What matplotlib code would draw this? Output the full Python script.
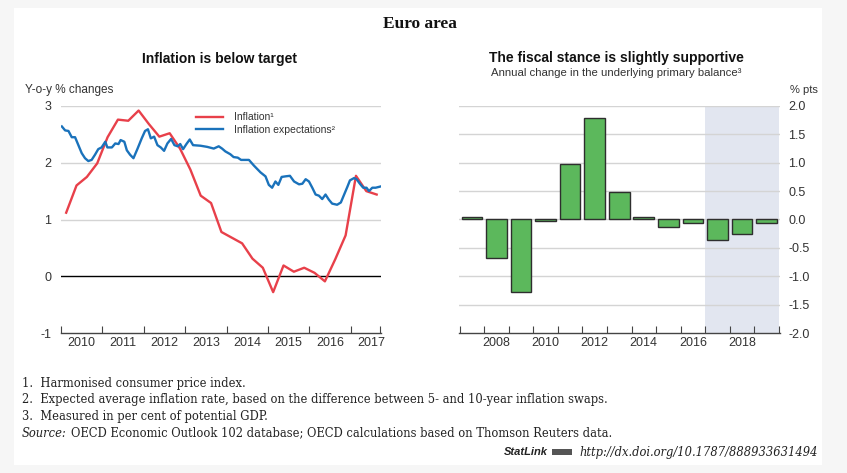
import numpy as np
import pandas as pd
import matplotlib
matplotlib.use("Agg")
import matplotlib.pyplot as plt
from matplotlib.patches import Rectangle

# --- data ---
# left panel: inflation (quarterly, 2010Q1 - 2017Q3)
infl_dates = pd.period_range("2010Q1", "2017Q3", freq="Q")
inflation = [1.12, 1.60, 1.75, 1.99, 2.45, 2.76, 2.74, 2.92,
             2.68, 2.46, 2.52, 2.25, 1.88, 1.42, 1.29, 0.78,
             0.68, 0.58, 0.31, 0.15, -0.28, 0.19, 0.08, 0.15,
             0.06, -0.09, 0.30, 0.72, 1.77, 1.50, 1.44]

# inflation expectations (decimal years)
exp_t = [2010.02, 2010.10, 2010.18, 2010.26, 2010.34, 2010.42, 2010.50, 2010.58,
         2010.66, 2010.74, 2010.82, 2010.90, 2010.98, 2011.07, 2011.12, 2011.23,
         2011.31, 2011.39, 2011.44, 2011.53, 2011.59, 2011.67, 2011.75, 2011.85,
         2011.95, 2012.03, 2012.10, 2012.17, 2012.25, 2012.33, 2012.41, 2012.49,
         2012.57, 2012.66, 2012.74, 2012.82, 2012.88, 2012.95, 2013.03, 2013.11,
         2013.19, 2013.37, 2013.53, 2013.69, 2013.81, 2013.89, 2013.97, 2014.09,
         2014.17, 2014.27, 2014.35, 2014.54, 2014.66, 2014.82, 2014.94, 2015.02,
         2015.10, 2015.18, 2015.25, 2015.33, 2015.42, 2015.53, 2015.63, 2015.75,
         2015.83, 2015.91, 2015.99, 2016.07, 2016.15, 2016.23, 2016.31, 2016.39,
         2016.47, 2016.55, 2016.67, 2016.76, 2016.84, 2016.92, 2016.98, 2017.08,
         2017.14, 2017.22, 2017.30, 2017.38, 2017.44, 2017.52, 2017.60, 2017.71]
exp_v = [2.64, 2.57, 2.56, 2.45, 2.45, 2.31, 2.17, 2.08,
         2.03, 2.05, 2.14, 2.24, 2.27, 2.37, 2.27, 2.27,
         2.34, 2.33, 2.40, 2.37, 2.22, 2.14, 2.08, 2.25,
         2.43, 2.56, 2.59, 2.43, 2.46, 2.31, 2.27, 2.21,
         2.34, 2.42, 2.31, 2.29, 2.33, 2.24, 2.33, 2.41,
         2.31, 2.30, 2.28, 2.25, 2.29, 2.25, 2.20, 2.15,
         2.10, 2.09, 2.05, 2.05, 1.95, 1.83, 1.76, 1.61,
         1.56, 1.67, 1.61, 1.75, 1.76, 1.77, 1.67, 1.62,
         1.63, 1.71, 1.67, 1.56, 1.44, 1.42, 1.36, 1.44,
         1.35, 1.28, 1.26, 1.30, 1.44, 1.58, 1.69, 1.73,
         1.71, 1.63, 1.56, 1.56, 1.50, 1.56, 1.56, 1.58]

# right panel: annual change in underlying primary balance
years = [2007, 2008, 2009, 2010, 2011, 2012, 2013, 2014, 2015, 2016, 2017, 2018, 2019]
fiscal = [0.05, -0.68, -1.28, -0.02, 0.97, 1.78, 0.49, 0.04, -0.14, -0.07, -0.36, -0.26, -0.07]
proj_start = 2016.5

RED = "#e8404a"
BLUE = "#1a72bb"
GREEN = "#5cb85c"
GRID = "#d4d4d4"
TXT = "#333333"

plt.rcParams["font.family"] = ["Liberation Sans", "DejaVu Sans"]

W, H = 847, 473
fig = plt.figure(figsize=(W / 100, H / 100), dpi=100)
fig.patch.set_facecolor("#f6f6f6")
fig.patches.append(Rectangle((14 / W, 1 - 465 / H), 808 / W, 457 / H,
                             transform=fig.transFigure, facecolor="white",
                             edgecolor="none", zorder=-5))


def fx(px):
    return px / W


def fy(py):
    return 1 - py / H


ax1 = fig.add_axes([fx(61), fy(333), fx(320), (333 - 106) / H])
ax2 = fig.add_axes([fx(459), fy(333), fx(321), (333 - 106) / H])

for ax in (ax1, ax2):
    ax.set_facecolor("none")
    for s in ("top", "left", "right"):
        ax.spines[s].set_visible(False)
    ax.spines["bottom"].set_color("#444444")
    ax.spines["bottom"].set_linewidth(1.0)
    ax.tick_params(axis="y", length=0, labelsize=9, colors=TXT)
    ax.tick_params(axis="x", which="major", direction="in", length=5,
                   color="#444444", labelbottom=False)
    ax.tick_params(axis="x", which="minor", length=0, labelsize=9, colors=TXT, pad=3)

# left chart
t_infl = [p.year + (p.quarter - 1) / 4 + 0.125 for p in infl_dates]
ax1.set_xlim(2010, 2017.73)
ax1.set_ylim(-1, 3)
for v in (1, 2, 3):
    ax1.axhline(v, color=GRID, lw=1, zorder=1)
ax1.axhline(0, color="black", lw=1, zorder=1)
ax1.plot(t_infl, inflation, color=RED, lw=1.7, label="Inflation\u00b9", zorder=3)
ax1.plot(exp_t, exp_v, color=BLUE, lw=1.7, label="Inflation expectations\u00b2", zorder=3)
ax1.set_yticks([-1, 0, 1, 2, 3])
ax1.set_yticklabels(["-1", "0", "1", "2", "3"])
ax1.tick_params(axis="y", pad=7)
ax1.set_xticks(list(range(2010, 2018)) + [2017.71])
ax1.set_xticks([y + 0.5 for y in range(2010, 2018)], minor=True)
ax1.set_xticklabels([str(y) for y in range(2010, 2018)], minor=True)
leg = ax1.legend(loc="upper left", bbox_to_anchor=(0.41, 0.99), frameon=False,
                 fontsize=7.5, handlelength=2.6, handletextpad=1.0,
                 labelspacing=0.2, borderaxespad=0)
for t in leg.get_texts():
    t.set_color(TXT)

# right chart
ax2.axvspan(proj_start, 2019.5, ymin=0, ymax=1, color="#e2e6f0", lw=0, zorder=0)
ax2.set_xlim(2006.47, 2019.55)
ax2.set_ylim(-2, 2)
for v in np.arange(-1.5, 2.01, 0.5):
    ax2.axhline(v, color=GRID, lw=1, zorder=1)
ax2.bar(years, fiscal, width=0.84, color=GREEN, edgecolor="#2e2e2e", lw=1, zorder=2)
ax2.yaxis.tick_right()
ax2.set_yticks(np.arange(-2, 2.01, 0.5))
ax2.set_yticklabels([f"{v:.1f}" for v in np.arange(-2, 2.01, 0.5)])
ax2.tick_params(axis="y", pad=6)
ax2.set_xticks([y + 0.5 for y in range(2006, 2020)])
ax2.set_xticks(range(2008, 2020, 2), minor=True)
ax2.set_xticklabels([str(y) for y in range(2008, 2020, 2)], minor=True)

# titles and labels
fig.text(fx(420), fy(24), "Euro area", ha="center", va="center",
         family=["Liberation Serif", "DejaVu Serif"], fontweight="bold", fontsize=12.5, color="#111111")
fig.text(fx(220), fy(59), "Inflation is below target", ha="center", va="center",
         fontweight="bold", fontsize=10, color="#111111")
fig.text(fx(616), fy(58), "The fiscal stance is slightly supportive", ha="center", va="center",
         fontweight="bold", fontsize=10, color="#111111")
fig.text(fx(616), fy(73), "Annual change in the underlying primary balance\u00b3", ha="center",
         va="center", fontsize=8.2, color=TXT)
fig.text(fx(25), fy(90), "Y-o-y % changes", ha="left", va="center", fontsize=8.5, color=TXT)
fig.text(fx(818), fy(90), "% pts", ha="right", va="center", fontsize=8, color=TXT)

# footnotes
serif = ["DejaVu Serif"]
fs = 8.3
notes = ["1.  Harmonised consumer price index.",
         "2.  Expected average inflation rate, based on the difference between 5- and 10-year inflation swaps.",
         "3.  Measured in per cent of potential GDP."]
for i, n in enumerate(notes):
    fig.text(fx(22), fy(383 + 16.5 * i), n, ha="left", va="center", family=serif,
             fontsize=fs, color="#222222")
fig.text(fx(22), fy(433), "Source:", ha="left", va="center", family=serif,
         style="italic", fontsize=fs, color="#222222")
fig.text(fx(71), fy(433), "OECD Economic Outlook 102 database; OECD calculations based on Thomson Reuters data.",
         ha="left", va="center", family=serif, fontsize=fs, color="#222222")
fig.text(fx(818), fy(452), "http://dx.doi.org/10.1787/888933631494", ha="right", va="center",
         family=serif, style="italic", fontsize=fs, color="#222222")
fig.text(fx(548), fy(452), "StatLink", ha="right", va="center", fontweight="bold",
         style="italic", fontsize=8, color="#222222")
fig.patches.append(Rectangle((fx(552), fy(455)), fx(20), 6 / H, transform=fig.transFigure,
                             facecolor="#555555", edgecolor="none"))

fig.savefig("out.png", dpi=100, facecolor=fig.get_facecolor())
